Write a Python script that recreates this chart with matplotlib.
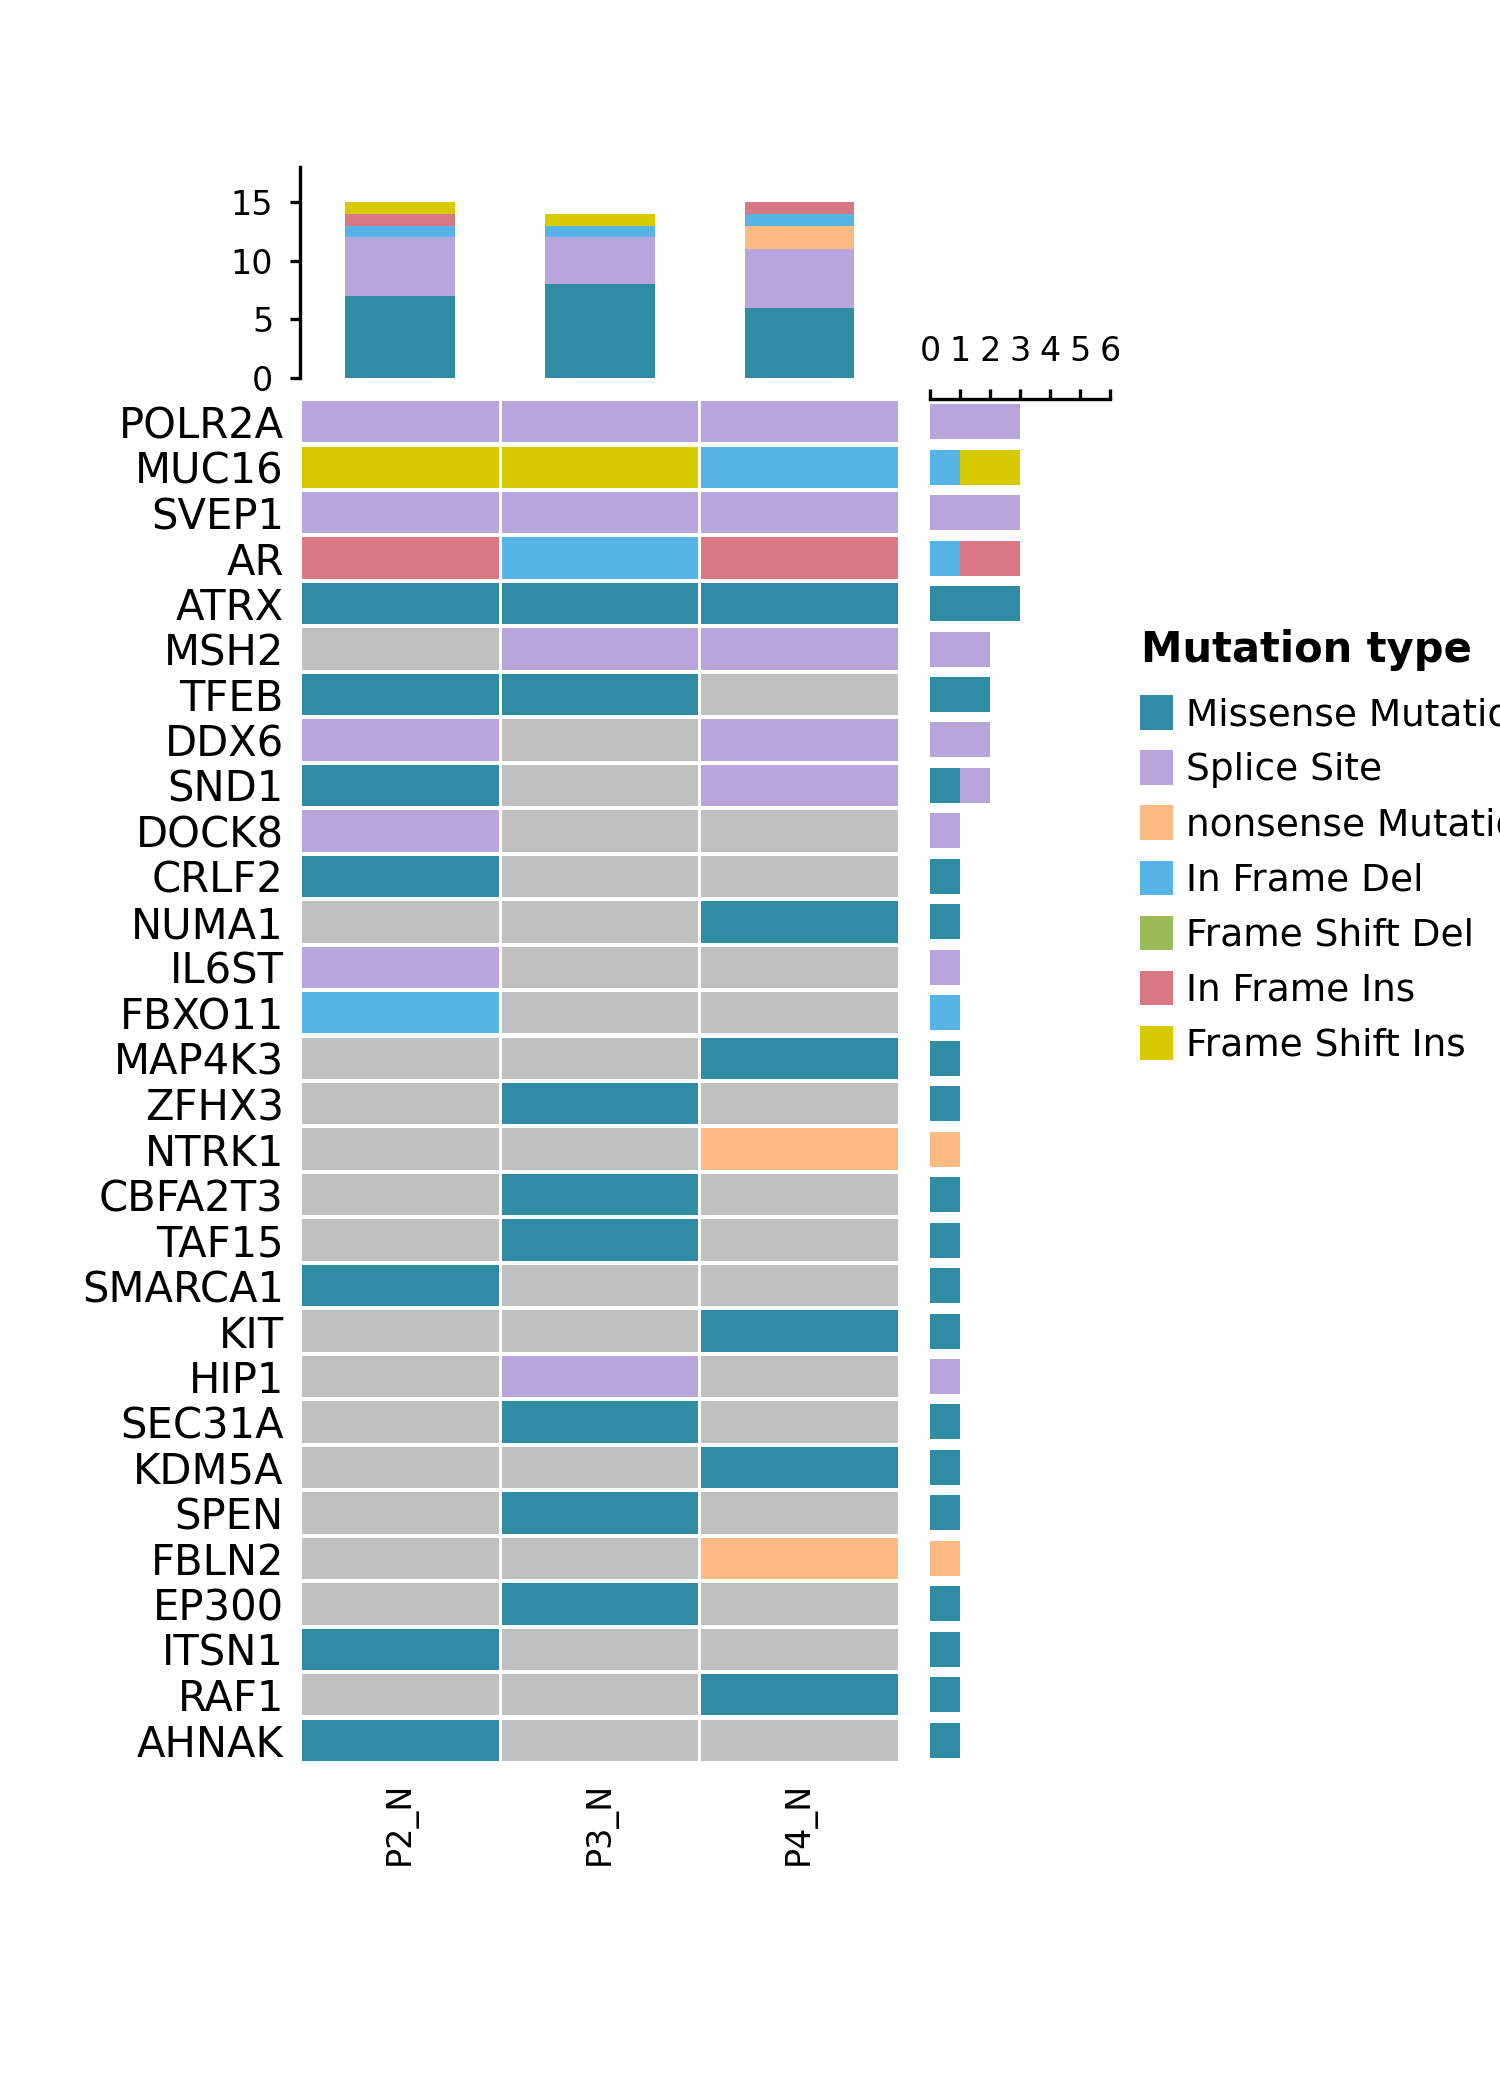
import numpy as np
import matplotlib
matplotlib.use("Agg")
import matplotlib.pyplot as plt
from matplotlib.patches import Patch

# Mutation categories and their colours (legend order = stacking order)
mut_types = ['Missense Mutation', 'Splice Site', 'nonsense Mutation', 'In Frame Del',
             'Frame Shift Del', 'In Frame Ins', 'Frame Shift Ins']
mut_colors = ['#308ca4', '#b8a5dc', '#fbba84', '#56b4e6', '#9ebb5a', '#d97884', '#d7ca00']
none_color = '#c0c0c0'

samples = ['P2_N', 'P3_N', 'P4_N']

genes = ['POLR2A', 'MUC16', 'SVEP1', 'AR', 'ATRX', 'MSH2', 'TFEB', 'DDX6', 'SND1', 'DOCK8',
         'CRLF2', 'NUMA1', 'IL6ST', 'FBXO11', 'MAP4K3', 'ZFHX3', 'NTRK1', 'CBFA2T3', 'TAF15',
         'SMARCA1', 'KIT', 'HIP1', 'SEC31A', 'KDM5A', 'SPEN', 'FBLN2', 'EP300', 'ITSN1',
         'RAF1', 'AHNAK']

# mutation per gene for each sample ('' = no mutation)
p2_n = ['Splice Site', 'Frame Shift Ins', 'Splice Site', 'In Frame Ins', 'Missense Mutation',
        '', 'Missense Mutation', 'Splice Site', 'Missense Mutation', 'Splice Site',
        'Missense Mutation', '', 'Splice Site', 'In Frame Del', '',
        '', '', '', '', 'Missense Mutation',
        '', '', '', '', '',
        '', '', 'Missense Mutation', '', 'Missense Mutation']
p3_n = ['Splice Site', 'Frame Shift Ins', 'Splice Site', 'In Frame Del', 'Missense Mutation',
        'Splice Site', 'Missense Mutation', '', '', '',
        '', '', '', '', '',
        'Missense Mutation', '', 'Missense Mutation', 'Missense Mutation', '',
        '', 'Splice Site', 'Missense Mutation', '', 'Missense Mutation',
        '', 'Missense Mutation', '', '', '']
p4_n = ['Splice Site', 'In Frame Del', 'Splice Site', 'In Frame Ins', 'Missense Mutation',
        'Splice Site', '', 'Splice Site', 'Splice Site', '',
        '', 'Missense Mutation', '', '', 'Missense Mutation',
        '', 'nonsense Mutation', '', '', '',
        'Missense Mutation', '', '', 'Missense Mutation', '',
        'nonsense Mutation', '', '', 'Missense Mutation', '']

columns = [p2_n, p3_n, p4_n]
color_of = dict(zip(mut_types, mut_colors))

# counts per sample (top bars) and per gene (right bars)
sample_counts = np.array([[col.count(t) for t in mut_types] for col in columns])
gene_counts = np.array([[sum(col[i] == t for col in columns) for t in mut_types]
                        for i in range(len(genes))])

plt.rcParams['font.family'] = 'DejaVu Sans'
fig = plt.figure(figsize=(5, 7), dpi=300)

ax_heat = fig.add_axes([0.2003, 0.1605, 0.3993, 0.6495])
ax_top = fig.add_axes([0.2003, 0.82, 0.3993, 0.1005])
ax_right = fig.add_axes([0.62, 0.1605, 0.12, 0.6495])

# heatmap: one bar per cell, small gaps between cells
rows = np.arange(len(genes))
for j, col in enumerate(columns):
    cell_colors = [color_of.get(m, none_color) for m in col]
    ax_heat.bar(np.full(len(genes), j), 0.91, bottom=rows - 0.455, width=0.985,
                color=cell_colors)
ax_heat.set_xlim(-0.5, len(samples) - 0.5)
ax_heat.set_ylim(len(genes) - 0.5, -0.5)
ax_heat.set_yticks(rows)
ax_heat.set_yticklabels(genes, fontsize=10)
ax_heat.set_xticks(range(len(samples)))
ax_heat.set_xticklabels(samples, fontsize=8, rotation=90)
ax_heat.tick_params(axis='y', length=0, pad=4)
ax_heat.tick_params(axis='x', length=0, pad=4.5)
for s in ax_heat.spines.values():
    s.set_visible(False)

# top stacked bars
x = np.arange(len(samples))
bottom = np.zeros(len(samples))
for j, t in enumerate(mut_types):
    ax_top.bar(x, sample_counts[:, j], bottom=bottom, width=0.55, color=mut_colors[j])
    bottom += sample_counts[:, j]
ax_top.set_xlim(-0.5, len(samples) - 0.5)
ax_top.set_ylim(0, bottom.max() * 1.2)
ax_top.set_yticks([0, 5, 10, 15])
ax_top.set_xticks([])
ax_top.tick_params(axis='y', labelsize=8, length=2.5, pad=4)
for s in ['top', 'right', 'bottom']:
    ax_top.spines[s].set_visible(False)

# right stacked bars
left = np.zeros(len(genes))
for j, t in enumerate(mut_types):
    ax_right.barh(rows, gene_counts[:, j], left=left, height=0.77, color=mut_colors[j])
    left += gene_counts[:, j]
ax_right.set_xlim(0, 6)
ax_right.set_ylim(len(genes) - 0.5, -0.5)
ax_right.set_xticks(range(7))
ax_right.set_yticks([])
ax_right.xaxis.tick_top()
ax_right.tick_params(axis='x', labelsize=8, length=2.5, pad=5)
for s in ['bottom', 'right', 'left']:
    ax_right.spines[s].set_visible(False)

# legend
fig.text(0.7607, 0.6848, 'Mutation type', fontsize=10, fontweight='bold',
         ha='left', va='baseline')
handles = [Patch(facecolor=c, edgecolor='none') for c in mut_colors]
fig.legend(handles, mut_types, loc='upper left', bbox_to_anchor=(0.76, 0.669),
           frameon=False, fontsize=9, borderpad=0, borderaxespad=0,
           handlelength=0.88, handleheight=1.04, handletextpad=0.36,
           labelspacing=0.455)

fig.savefig('out.png', dpi=300)
